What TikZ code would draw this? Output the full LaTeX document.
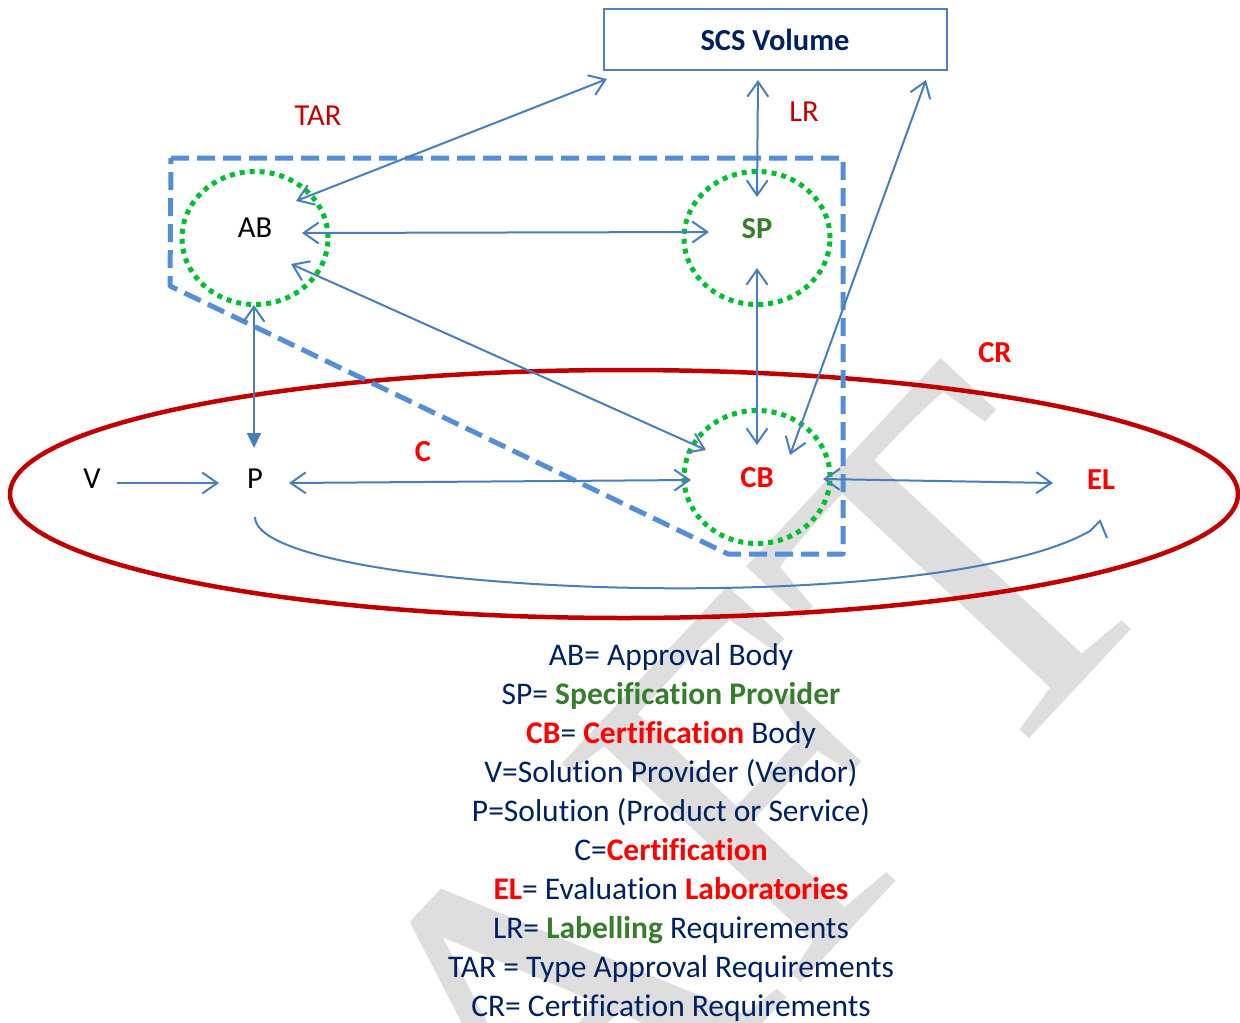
\documentclass[tikz,border=0pt]{standalone}
\usepackage{fontspec}
\setmainfont{Carlito}[Ligatures=NoCommon]
\newfontfamily\wmfont{Liberation Serif}
\usetikzlibrary{arrows.meta,shapes.geometric}
\definecolor{connblue}{RGB}{74,126,187}
\definecolor{dashblue}{RGB}{85,142,213}
\definecolor{boxblue}{RGB}{79,129,189}
\definecolor{dotgreen}{RGB}{0,190,50}
\definecolor{darkred}{RGB}{192,0,0}
\definecolor{brightred}{RGB}{255,0,0}
\definecolor{navy}{RGB}{0,32,96}
\definecolor{txtgreen}{RGB}{55,125,45}
\definecolor{wmgray}{RGB}{222,222,222}
\newcommand{\lblf}{\fontsize{30.5}{36}\selectfont}
\newcommand{\legf}{\fontsize{31.5}{39}\selectfont}
\tikzset{
  barb/.tip={Straight Barb[length=15pt,width=21pt]},
  filltip/.tip={Triangle[length=15pt,width=14pt]},
  link/.style={draw=connblue, line width=2pt},
  bi/.style={link, barb-barb},
  one/.style={link, -barb},
  lbl/.style={font=\lblf, inner sep=0pt, anchor=base},
  leg/.style={font=\legf, inner sep=0pt, anchor=base, text=navy},
  ring/.style={draw=dotgreen, ellipse, line width=5pt, dash pattern=on 5pt off 5pt,
               minimum width=146pt, minimum height=133pt, inner sep=0pt}
}
\begin{document}
\begin{tikzpicture}[x=1pt,y=-1pt]
\useasboundingbox (0,0) rectangle (1240,1023);
% watermark
\begin{scope}
\clip (0,0) rectangle (1240,1023);
\node[text=wmgray, font=\wmfont\fontsize{495}{495}\selectfont, rotate=47, inner sep=0pt] (wmk) at (511,1055) {DRAFT};
\end{scope}
% CR ellipse
\draw[darkred, line width=4.5pt] (624,494) ellipse [x radius=614pt, y radius=124pt];
% TAR dashed region
\draw[dashblue, line width=5pt, dash pattern=on 18pt off 8pt, line join=round]
  (171,158) -- (843,158) -- (843,554) -- (728,554) -- (170,286) -- cycle;
% circles
\node[ring] (abc) at (255,238) {};
\node[ring] (spc) at (757,238) {};
\node[ring] (cbc) at (757,477) {};
% SCS box
\node[draw=boxblue, line width=2pt, minimum width=343pt, minimum height=61pt, inner sep=0pt,
      font=\lblf\bfseries, text=navy] (scs) at (775,39.5) {SCS Volume};
% labels
\node[lbl] (ab) at (255,237) {AB};
\node[lbl, font=\lblf\bfseries, text=txtgreen] (sp) at (757,238) {SP};
\node[lbl, font=\lblf\bfseries, text=brightred] (cb) at (757,487) {CB};
\node[lbl] (v) at (92,488) {V};
\node[lbl] (p) at (255,488) {P};
\node[lbl, font=\lblf\bfseries, text=brightred] (el) at (1101,489) {EL};
\node[lbl, font=\lblf\bfseries, text=brightred] (c) at (423,461) {C};
\node[lbl, text=darkred] (tar) at (318,125) {TAR};
\node[lbl, text=darkred] (lr) at (804,121) {LR};
\node[lbl, font=\lblf\bfseries, text=brightred] (cr) at (995,362) {CR};
% connector end points
\coordinate (abTop) at (296,201);  \coordinate (scsL) at (607,79);
\coordinate (abR) at (302,233);    \coordinate (spL) at (709,232);
\coordinate (abD) at (291,264);    \coordinate (cbUL) at (706,450);
\coordinate (abB) at (254,305);    \coordinate (pT) at (254,448);
\coordinate (scsM) at (758,80);    \coordinate (spT) at (757,197);
\coordinate (spB) at (757,268);    \coordinate (cbT) at (757,445);
\coordinate (scsR) at (926,80);    \coordinate (cbUR) at (790,455);
\coordinate (vR) at (117,483);     \coordinate (pL) at (219,483);
\coordinate (pR) at (289,483);     \coordinate (cbL) at (691,480);
\coordinate (cbR) at (823,479);    \coordinate (elL) at (1053,483);
\coordinate (pB) at (255,517);     \coordinate (elJ) at (1090,531);
\coordinate (elTip) at (1100,521); \coordinate (elBarb) at (1107,538);
% connectors
\draw[bi] (abTop) -- (scsL);
\draw[bi] (abR) -- (spL);
\draw[bi] (abD) -- (cbUL);
\draw[link, barb-filltip] (abB) -- (pT);
\draw[bi] (scsM) -- (spT);
\draw[bi] (spB) -- (cbT);
\draw[bi] (scsR) -- (cbUR);
\draw[one] (vR) -- (pL);
\draw[bi] (pR) -- (cbL);
\draw[bi] (cbR) -- (elL);
\draw[link, line join=miter] (pB) .. controls (255,595) and (930,622) .. (elJ) -- (elTip) -- (elBarb);
% legend
\node[leg] (l1) at (671,665) {AB= Approval Body};
\node[leg] (l2) at (671,704) {SP= {\color{txtgreen}\bfseries Specification Provider}};
\node[leg] (l3) at (671,743) {{\color{brightred}\bfseries CB}= {\color{brightred}\bfseries Certification} Body};
\node[leg] (l4) at (671,782) {V=Solution Provider (Vendor)};
\node[leg] (l5) at (671,821) {P=Solution (Product or Service)};
\node[leg] (l6) at (671,860) {C={\color{brightred}\bfseries Certification}};
\node[leg] (l7) at (671,899) {{\color{brightred}\bfseries EL}= Evaluation {\color{brightred}\bfseries Laboratories}};
\node[leg] (l8) at (671,938) {LR= {\color{txtgreen}\bfseries Labelling} Requirements};
\node[leg] (l9) at (671,977) {TAR = Type Approval Requirements};
\node[leg] (l10) at (671,1016) {CR= Certification Requirements};
\end{tikzpicture}
\end{document}
